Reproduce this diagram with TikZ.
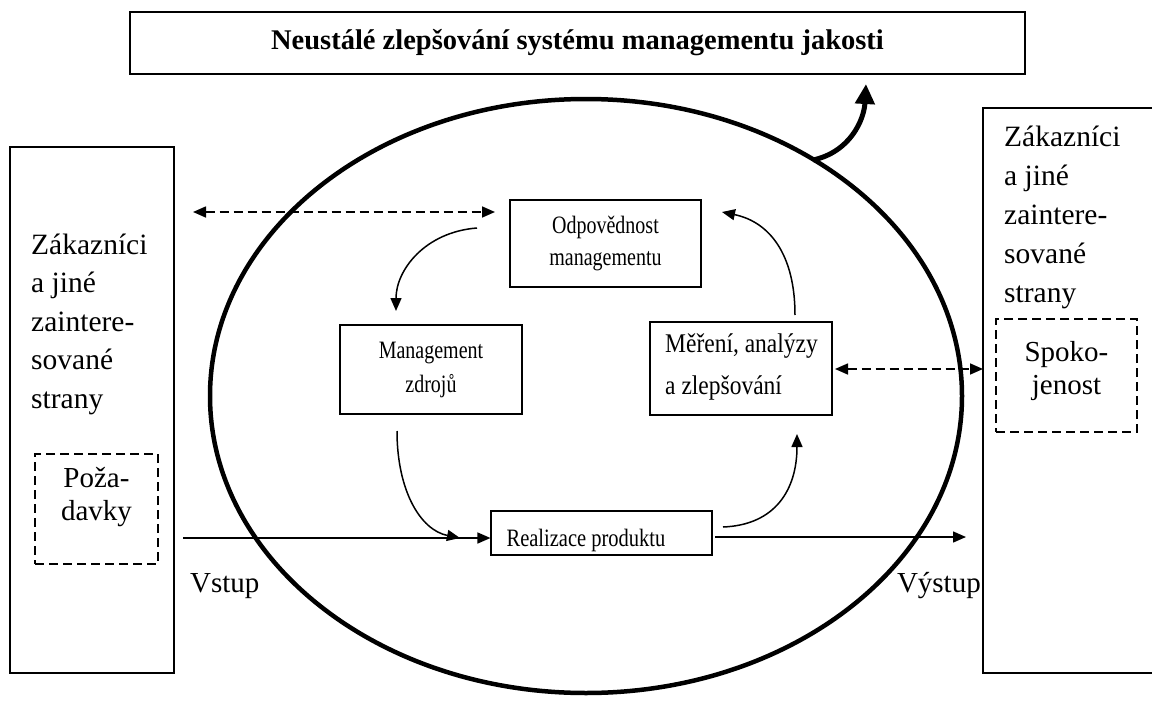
\documentclass[tikz,border=0pt]{standalone}
\usepackage{fontspec}
\setmainfont{Liberation Serif}
\usepackage{graphicx}
\usetikzlibrary{arrows.meta,shapes.geometric}
\newcommand{\cnd}[2][0.8]{\scalebox{#1}[1]{#2}}
\begin{document}
\begin{tikzpicture}[x=1pt,y=-1pt,
  box/.style={draw, line width=1.1pt, inner sep=0pt},
  sbox/.style={draw, line width=1.6pt, inner sep=0pt},
  dbox/.style={draw, line width=1.5pt, dash pattern=on 9pt off 5pt, inner sep=0pt},
  side/.style={font=\fontsize{29.5}{38.5}\selectfont, align=left, anchor=base west, inner sep=0pt},
  inner/.style={font=\fontsize{25}{34}\selectfont, align=center, inner sep=0pt},
  arr/.style={line width=1.5pt, -{Triangle[length=13pt,width=11pt]}},
  darr/.style={line width=1.6pt, dash pattern=on 9pt off 5pt, {Triangle[length=13pt,width=11pt]}-{Triangle[length=13pt,width=11pt]}},
  big/.style={line width=5pt, -{Triangle[length=20pt,width=19pt]}}
]
\useasboundingbox (0,0) rectangle (1152,704);

% top title box
\node[sbox, minimum width=895pt, minimum height=62pt] (title) at (577.5,43) {};
\node[font=\fontsize{28.5}{30}\selectfont\bfseries] (titletxt) at (577.5,43) {Neustálé zlepšování systému managementu jakosti};

% big ellipse
\node[draw, ellipse, line width=4.5pt, minimum width=752pt, minimum height=594pt, inner sep=0pt] (E) at (586,396) {};

% left box
\node[sbox, minimum width=164pt, minimum height=526pt] (L) at (92,410) {};
\node[side] (Ltxt) at (31,254) {Zákazníci};
\node[side] (Ltxt2) at (31,292.5) {a jiné};
\node[side] (Ltxt3) at (31,331) {zaintere-};
\node[side] (Ltxt4) at (31,369.5) {sované};
\node[side] (Ltxt5) at (31,408) {strany};
\node[dbox, minimum width=123pt, minimum height=110pt] (poz) at (96.5,509) {};
\node[font=\fontsize{29}{33}\selectfont, align=center] (poztxt) at (96.5,497) {Poža-\\davky};

% right box
\draw[line width=1.6pt] (1160,108) -- (983,108) -- (983,673) -- (1160,673);
\coordinate (Rl) at (983,369);
\node[side] (Rtxt) at (1004,146) {Zákazníci};
\node[side] (Rtxt2) at (1004,185) {a jiné};
\node[side] (Rtxt3) at (1004,224) {zaintere-};
\node[side] (Rtxt4) at (1004,263) {sované};
\node[side] (Rtxt5) at (1004,302) {strany};
\node[dbox, minimum width=141pt, minimum height=113pt] (spok) at (1066.5,375.5) {};
\node[font=\fontsize{29}{33}\selectfont, align=center] (spoktxt) at (1066.5,371) {Spoko-\\jenost};

% inner boxes
\node[box, minimum width=191pt, minimum height=87pt] (odp) at (605.5,243.5) {};
\node[inner] (odptxt) at (605.5,243.5) {\cnd{Odpovědnost}\\[-2pt]\cnd{managementu}};

\node[box, minimum width=182pt, minimum height=89pt] (mz) at (431,369.5) {};
\node[inner] (mztxt) at (431,370) {\cnd{Management}\\\cnd{zdrojů}};

\node[box, minimum width=182pt, minimum height=93pt] (mer) at (741,368.5) {};
\node[font=\fontsize{27}{42}\selectfont, align=left, anchor=west, inner sep=0pt] (mertxt) at (665,367) {\cnd[0.87]{Měření, analýzy}\\\cnd[0.87]{a zlepšování}};

\node[box, minimum width=221pt, minimum height=44pt] (real) at (601.5,533) {};
\node[font=\fontsize{25}{30}\selectfont, inner sep=0pt, anchor=base] (realtxt) at (586,546) {\cnd[0.82]{Realizace produktu}};

% Vstup / Vystup
\node[font=\fontsize{29}{32}\selectfont, anchor=base west, inner sep=0pt] (vst) at (190,592) {Vstup};
\node[font=\fontsize{29}{32}\selectfont, anchor=base east, inner sep=0pt] (vyst) at (981,592) {Výstup};

% connectors
\coordinate (inS) at (183,538);
\draw[arr] (inS) -- (real.west |- inS);
\coordinate (outE) at (966,537);
\coordinate (outS) at (715,537);
\draw[arr] (outS) -- (outE);

\coordinate (dL) at (193,212);
\coordinate (dR) at (495,212);
\draw[darr] (dL) -- (dR);
\coordinate (mR) at (835,369);
\draw[darr] (mR) -- (Rl);

\coordinate (c1s) at (477,228);
\coordinate (c1e) at (396,311);
\draw[arr] (c1s) .. controls (425,232) and (396,270) .. (c1e);

\coordinate (c2s) at (397,431);
\coordinate (c2e) at (460,538);
\draw[arr] (c2s) .. controls (397,490) and (420,530) .. (c2e);

\coordinate (c3s) at (723,527);
\coordinate (c3e) at (797,434);
\draw[arr] (c3s) .. controls (775,525) and (797,490) .. (c3e);

\coordinate (c4s) at (795,315);
\coordinate (c4e) at (722,212);
\draw[arr] (c4s) .. controls (795,255) and (770,222) .. (c4e);

\coordinate (bs) at (813,160);
\coordinate (be) at (866,84);
\draw[big] (bs) .. controls (850,152) and (864,120) .. (be);
\end{tikzpicture}
\end{document}
